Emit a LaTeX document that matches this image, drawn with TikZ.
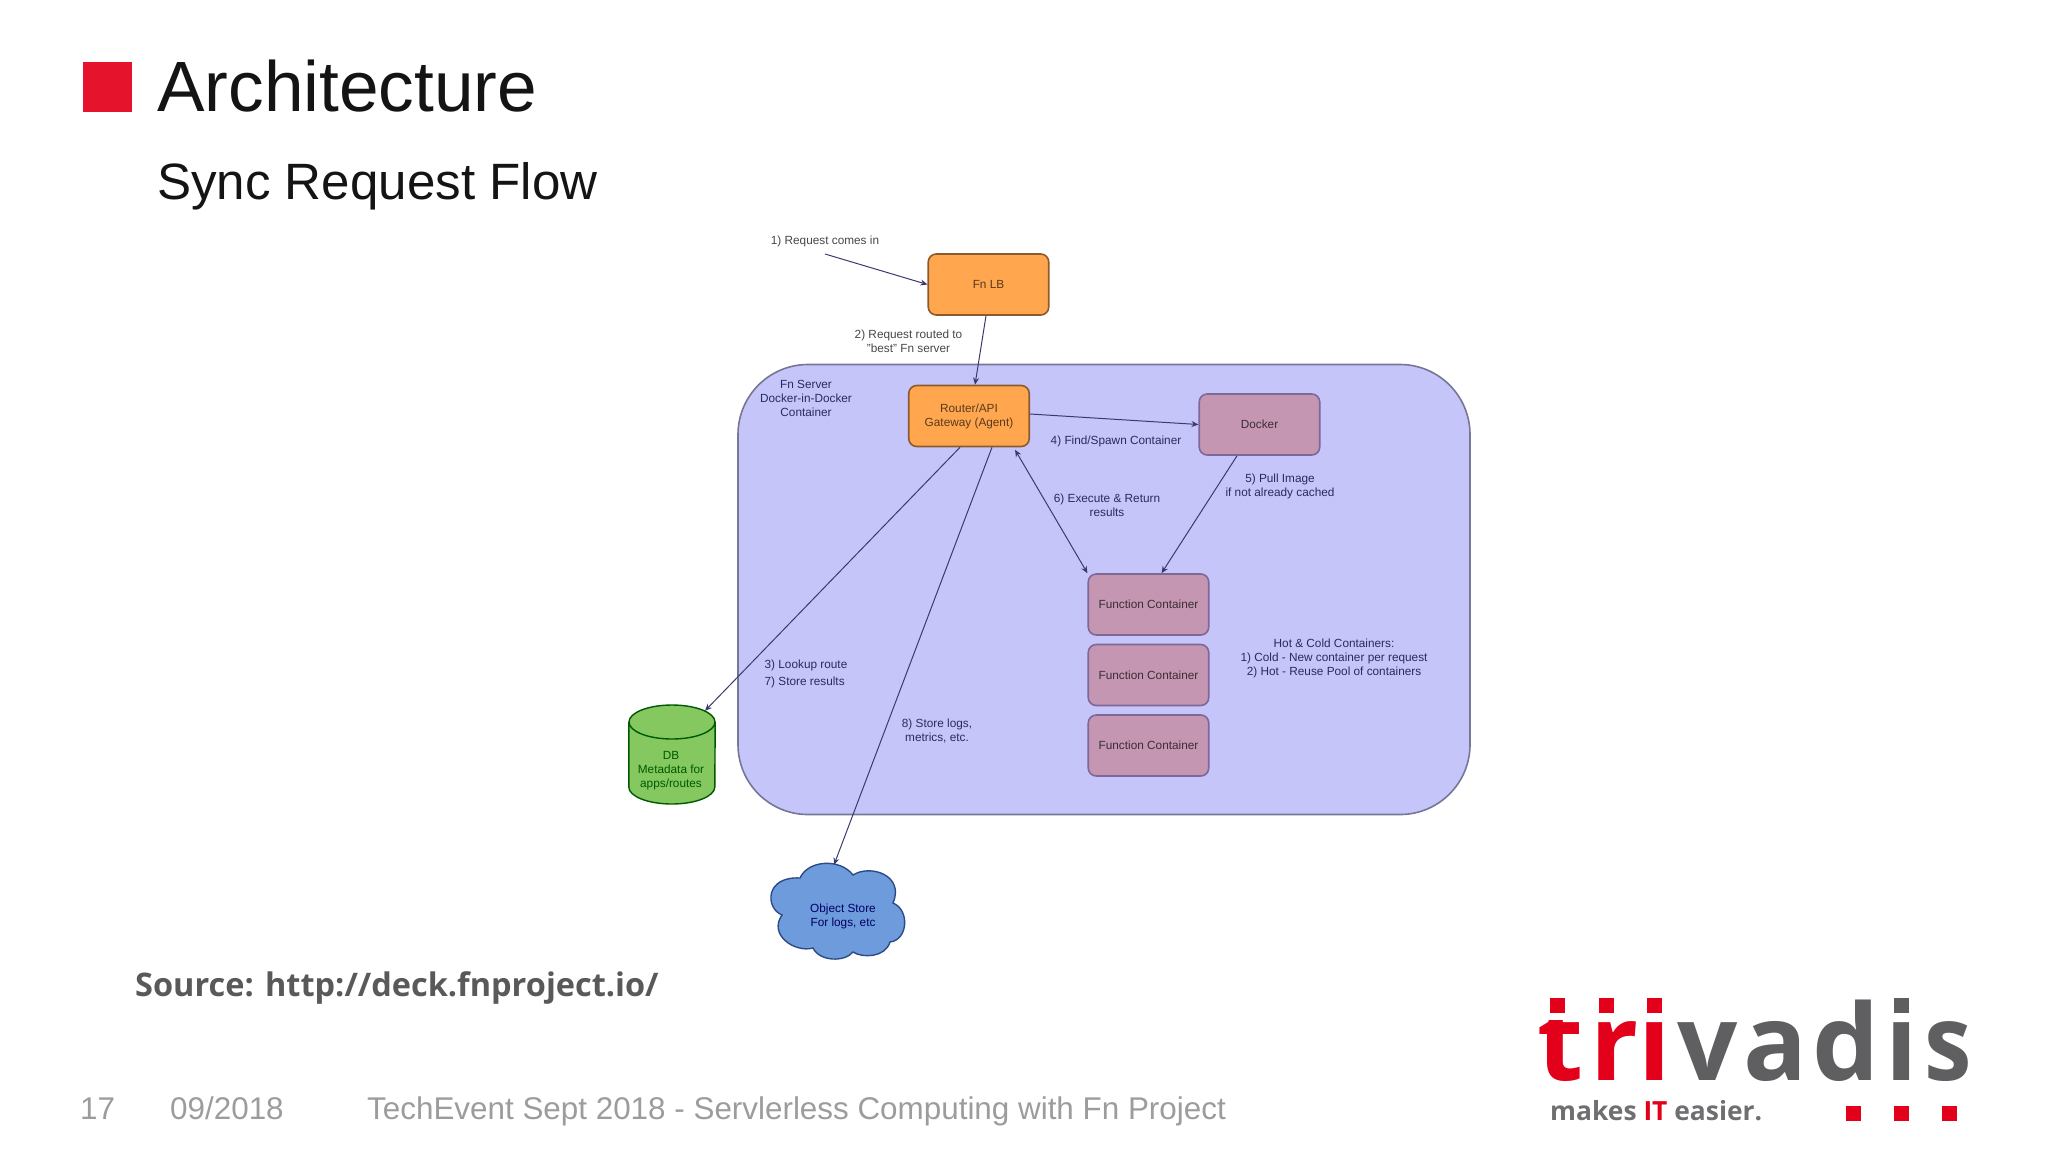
\documentclass[tikz,border=0pt]{standalone}
\usepackage{fontspec}
\usepackage{graphicx}
\setmainfont{Liberation Sans}
\newfontfamily\opensans{Open Sans}
\usetikzlibrary{arrows.meta}
\definecolor{tvred}{HTML}{E2001A}
\definecolor{tvgray}{HTML}{5F5F62}
\definecolor{footgray}{HTML}{9C9C9C}
\definecolor{orangefill}{HTML}{FFA64F}
\definecolor{pinkfill}{HTML}{C596B2}
\definecolor{bigfill}{HTML}{C5C5FA}
\definecolor{greenfill}{HTML}{84C85F}
\definecolor{cloudfill}{HTML}{6E9BDC}
\definecolor{navytext}{HTML}{2A2A62}
\definecolor{linecol}{HTML}{3A3A6E}
\tikzset{
  box/.style={line width=1.6pt,rounded corners=8pt,minimum width=120.5pt,minimum height=61pt,inner sep=0pt,align=center,font=\fontsize{11.8}{14}\selectfont},
  orangebox/.style={box,fill=orangefill,draw=orangefill!55!black,text=orangefill!35!black},
  pinkbox/.style={box,fill=pinkfill,draw={rgb,255:red,126;green,103;blue,153},text=pinkfill!30!black},
  note/.style={inner sep=0pt,align=center,text=navytext,font=\fontsize{11.8}{14}\selectfont},
  plainnote/.style={inner sep=0pt,align=center,text=black!72,font=\fontsize{11.8}{14}\selectfont},
  conn/.style={draw=linecol,line width=1pt,-{Stealth[length=7pt,width=6pt]}},
  foot/.style={inner sep=0pt,anchor=base west,text=footgray,font=\fontsize{31.4}{36}\selectfont},
  letter/.style={inner sep=0pt,anchor=base west,font=\opensans\bfseries\fontsize{106}{110}\selectfont},
  sq/.style={fill=tvred,draw=none,inner sep=0pt,minimum width=15pt,minimum height=15pt},
  anchorbox/.style={inner sep=0pt,draw=none}
}
\begin{document}
\begin{tikzpicture}[x=1pt,y=-1pt]
\useasboundingbox (0,0) rectangle (2048,1152);
% header
\node[fill=tvred!90!pink,inner sep=0pt,minimum width=49pt,minimum height=50pt] (bullet) at (107.5,86.5) {};
\node[inner sep=0pt,anchor=base west,font=\fontsize{71.2}{75}\selectfont,text=black!92] (title) at (157,111.5) {Architecture};
\node[inner sep=0pt,anchor=base west,font=\fontsize{51.1}{55}\selectfont,text=black!92] (subtitle) at (157,199) {Sync Request Flow};
% container
\node[draw=bigfill!60!black,fill=bigfill,line width=1.6pt,rounded corners=70pt,minimum width=732pt,minimum height=450pt,inner sep=0pt] (server) at (1104,589.5) {};
% nodes
\node[orangebox] (lb) at (988.5,284.5) {\raisebox{-1pt}{Fn LB}};
\node[orangebox] (router) at (969,416) {Router/API\\Gateway (Agent)};
\node[pinkbox] (docker) at (1259.5,424.5) {\raisebox{-1pt}{Docker}};
\node[pinkbox] (fc1) at (1148.5,604.5) {\raisebox{-1pt}{Function Container}};
\node[pinkbox] (fc2) at (1148.5,675) {\raisebox{-1pt}{Function Container}};
\node[pinkbox] (fc3) at (1148.5,745.5) {\raisebox{-1pt}{Function Container}};
% database cylinder
\node[anchorbox,minimum width=86pt,minimum height=99pt] (db) at (672,754.5) {};
\draw[fill=greenfill,draw=green!35!black,line width=1.4pt] (db.west |- 0,722) -- (db.west |- 0,787)
  arc[start angle=180,end angle=360,x radius=43pt,y radius=17pt] -- (db.east |- 0,722);
\draw[fill=greenfill,draw=green!35!black,line width=1.4pt] (672,722) ellipse[x radius=43pt,y radius=17pt];
\node[inner sep=0pt,align=center,text=green!35!black,font=\fontsize{11.8}{14}\selectfont] (dblabel) at (671,771) {DB\\Metadata for\\apps/routes};
% cloud
\node[anchorbox,minimum width=132pt,minimum height=94pt] (cloud) at (834,912) {};
\draw[fill=cloudfill,draw={rgb,255:red,45;green,75;blue,135},line width=1.4pt]
  (800,878) .. controls (808,860) and (840,858) .. (853,875)
  .. controls (870,864) and (905,875) .. (893,903)
  .. controls (910,910) and (908,940) .. (890,942)
  .. controls (885,958) and (862,958) .. (853,952)
  .. controls (845,962) and (820,962) .. (813,948)
  .. controls (795,953) and (768,935) .. (782,915)
  .. controls (765,908) and (765,876) .. (800,878) -- cycle;
\node[inner sep=0pt,align=center,text=blue!40!black,font=\fontsize{11.8}{14}\selectfont] (cloudlabel) at (843,916) {Object Store\\For logs, etc};
% notes
\coordinate (req) at (825,254);
\node[plainnote] (n1) at (825,241) {1) Request comes in};
\node[plainnote] (n2) at (908.5,341) {2) Request routed to\\"best" Fn server};
\node[note] (n0) at (806,398) {Fn Server\\Docker-in-Docker\\Container};
\node[note] (n4) at (1116,441) {4) Find/Spawn Container};
\node[note] (n5) at (1280,486) {5) Pull Image\\if not already cached};
\node[note] (n6) at (1107,505) {6) Execute \& Return\\results};
\node[note] (nhot) at (1334,658) {Hot \& Cold Containers:\\1) Cold - New container per request\\2) Hot - Reuse Pool of containers};
\node[note,align=left,font=\fontsize{11.8}{16.7}\selectfont] (n3) at (806,674) {3) Lookup route\\7) Store results};
\node[note] (n8) at (937,731) {8) Store logs,\\metrics, etc.};
% connectors
\draw[conn] (req) -- (lb.west);
\draw[conn] ([xshift=-2.5pt]lb.south) -- ([xshift=6pt]router.north);
\draw[conn] ([yshift=2pt]router.east) -- (docker.west);
\draw[conn,{Stealth[length=7pt,width=6pt]}-{Stealth[length=7pt,width=6pt]}] ([xshift=-15pt,yshift=-2.5pt]router.south east) -- (fc1.north west);
\draw[conn] ([xshift=-22.5pt]docker.south) -- ([xshift=13pt]fc1.north);
\draw[conn] ([xshift=-9pt]router.south) -- ([xshift=33pt,yshift=-6pt]db.north);
\draw[conn] ([xshift=23pt]router.south) -- (cloud.north);
% source and footer
\node[inner sep=0pt,anchor=base west,text=black!65,font=\opensans\bfseries\fontsize{32.5}{36}\selectfont] (source) at (135,996) {Source: http://deck.fnproject.io/};
\node[foot] (page) at (80,1119.5) {17};
\node[foot] (date) at (170,1119.5) {09/2018};
\node[foot] (event) at (367,1119.5) {TechEvent Sept 2018 - Servlerless Computing with Fn Project};
% logo
\begin{scope}
\clip (1530,1020) rectangle (1590,1095);
\node[letter,text=tvred] (lt) at (1537,1080) {t};
\end{scope}
\node[letter,text=tvred] (lr) at (1590.3,1080) {r};
\node[letter,text=tvred] (li) at (1638,1080) {ı};
\node[letter,text=tvgray] (lv) at (1677,1080) {v};
\node[letter,text=tvgray] (la) at (1743,1080) {a};
\node[letter,text=tvgray] (ld) at (1812,1080) {d};
\node[letter,text=tvgray] (li2) at (1885,1080) {ı};
\node[letter,text=tvgray] (ls) at (1924,1080) {\scalebox{0.9}[1]{s}};
\node[sq] (d1) at (1557,1005) {};
\node[sq] (d2) at (1606,1005) {};
\node[sq] (d3) at (1654.5,1005) {};
\node[sq,fill=tvgray] (d4) at (1901.5,1005) {};
\node[sq] (b1) at (1853.5,1113) {};
\node[sq] (b2) at (1901.5,1113) {};
\node[sq] (b3) at (1949.5,1113) {};
\node[inner sep=0pt,anchor=base west,text=tvgray!90,font=\opensans\bfseries\fontsize{26.4}{30}\selectfont] (tag) at (1550,1120) {makes \textcolor{tvred}{IT} easier.};
\end{tikzpicture}
\end{document}
